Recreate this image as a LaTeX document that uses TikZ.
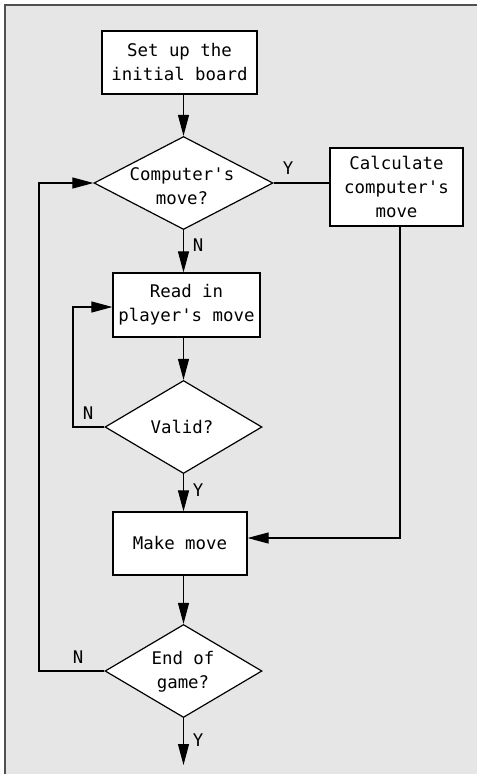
\documentclass[tikz,border=0pt]{standalone}
\usepackage{fontspec}
\setmonofont{DejaVu Sans Mono}
\usetikzlibrary{shapes.geometric,arrows.meta}
\definecolor{bg}{HTML}{E6E6E6}
\definecolor{framec}{HTML}{505050}
\begin{document}
\begin{tikzpicture}[x=1pt,y=-1pt,
  every node/.style={font=\ttfamily\fontsize{17.4}{24}\selectfont},
  box/.style={draw, fill=white, line width=1.2pt, inner sep=0pt, align=center},
  dec/.style={diamond, draw, fill=white, line width=1.2pt, inner sep=0pt, minimum width=157pt, minimum height=93pt},
  lbl/.style={align=center, inner sep=0pt},
  conn/.style={line width=1.1pt},
  arr/.style={conn, -{Triangle[length=21pt,width=11pt]}}]
\useasboundingbox (0,0) rectangle (477,774);
\fill[bg] (5,5) rectangle (477,774);
\draw[framec, line width=2pt] (5,774) -- (5,5) -- (477,5);

\node[box, minimum width=155pt, minimum height=63pt] (b1) at (179.5,62.5) {Set up the\\initial board};
\node[dec, minimum width=179pt] (d1) at (183.5,183) {};
\node[lbl] (d1t) at (182,186) {Computer's\\move?};
\node[box, minimum width=133pt, minimum height=78pt] (b2) at (396.5,187) {Calculate\\computer's\\move};
\node[box, minimum width=147pt, minimum height=64pt] (b3) at (186.5,305) {Read in\\player's move};
\node[dec] (d2) at (183.5,427) {};
\node[lbl] (d2t) at (182,427) {Valid?};
\node[box, minimum width=134pt, minimum height=63pt] (b4) at (180,543.5) {Make move};
\node[dec] (d3) at (183.5,671) {};
\node[lbl] (d3t) at (183,672) {End of\\game?};

\coordinate (r1) at (73,307);
\coordinate (r2) at (400,538);
\coordinate (r3) at (39,183);
\coordinate (r4) at (183.5,765);

\draw[arr] (b1.south -| d1.north) -- (d1.north);
\draw[conn] (d1.east) -- (b2.west |- d1.east);
\draw[arr] (d1.south) -- (d1.south |- b3.north);
\draw[arr] (b3.south -| d2.north) -- (d2.north);
\draw[arr] (d2.west) -| (r1) -- (b3.west |- r1);
\draw[arr] (d2.south) -- (d2.south |- b4.north);
\draw[arr] (b2.south -| r2) -- (r2) -- (b4.east |- r2);
\draw[arr] (b4.south -| d3.north) -- (d3.north);
\draw[arr] (d3.west) -| (r3) -- (d1.west);
\draw[arr] (d3.south) -- (r4);

\node[lbl] (l1) at (288,168) {Y};
\node[lbl] (l2) at (198,245) {N};
\node[lbl] (l3) at (88,413) {N};
\node[lbl] (l4) at (198,490) {Y};
\node[lbl] (l5) at (78,657) {N};
\node[lbl] (l6) at (198,740) {Y};
\end{tikzpicture}
\end{document}
